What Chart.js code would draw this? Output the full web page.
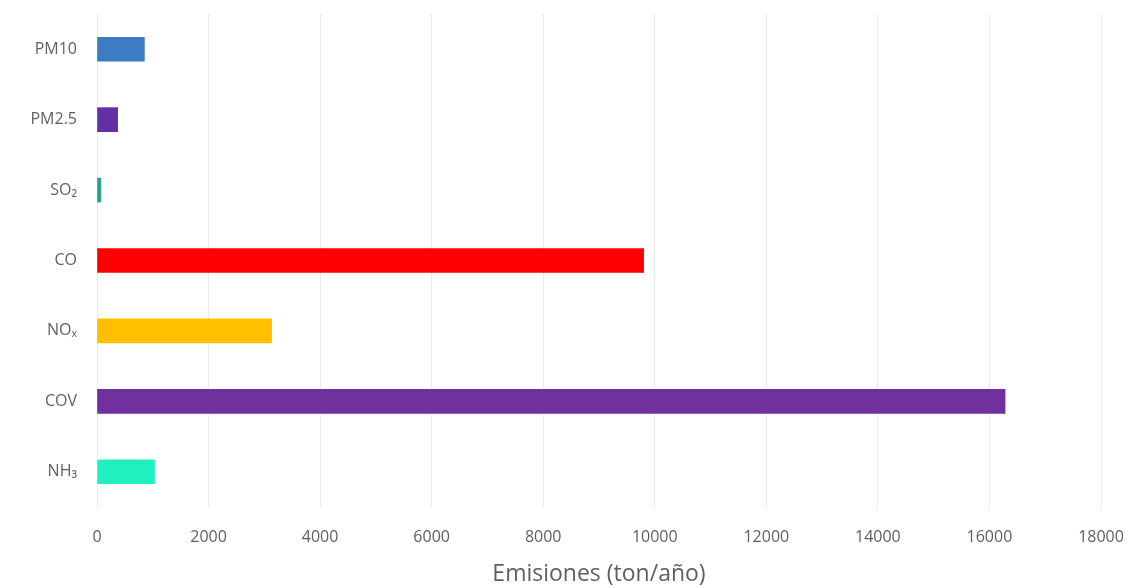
<!DOCTYPE html>
<html>
<head>
<meta charset="utf-8">
<script src="https://cdn.jsdelivr.net/npm/chart.js@4/dist/chart.umd.min.js"></script>
<style>
  html, body { margin: 0; padding: 0; background: #fff; }
  #wrap { width: 1135px; height: 588px; }
</style>
</head>
<body>
<div id="wrap"><canvas id="chart"></canvas></div>
<script>
// categories and values
const pollutants = ['PM10', 'PM2.5', 'SO₂', 'CO', 'NOₓ', 'COV', 'NH₃'];
const emissions = [850, 370, 70, 9800, 3130, 16280, 1030];
const barColors = ['#3d7bc2', '#6330a6', '#25a58c', '#ff0000', '#ffc000', '#7030a0', '#1ef0c0'];
const xTicks = [0, 2000, 4000, 6000, 8000, 10000, 12000, 14000, 16000, 18000];

const textColor = '#5f5f5f';
const fontFamily = '"Open Sans", "Noto Sans", sans-serif';

const ctx = document.getElementById('chart').getContext('2d');
new Chart(ctx, {
  type: 'bar',
  data: {
    labels: pollutants,
    datasets: [{
      data: emissions,
      backgroundColor: barColors,
      barThickness: 24
    }]
  },
  options: {
    indexAxis: 'y',
    responsive: true,
    maintainAspectRatio: false,
    animation: false,
    layout: { padding: { top: 14, right: 34, left: 0, bottom: 0 } },
    plugins: {
      legend: { display: false },
      tooltip: { enabled: false }
    },
    scales: {
      x: {
        min: xTicks[0],
        max: xTicks[xTicks.length - 1],
        afterBuildTicks: axis => { axis.ticks = xTicks.map(v => ({ value: v })); },
        afterFit: scale => {
          scale.height = 81;
          scale.paddingLeft = 0;
          scale.paddingRight = 0;
        },
        grid: { color: '#ececec', drawTicks: false },
        border: { display: false },
        ticks: {
          color: textColor,
          padding: 21,
          font: { family: fontFamily, size: 16 },
          callback: v => String(v)
        },
        title: {
          display: true,
          text: 'Emisiones (ton/año)',
          color: textColor,
          padding: { top: 0, bottom: 0 },
          font: { family: fontFamily, size: 23 }
        }
      },
      y: {
        grid: { display: false, drawTicks: false },
        border: { display: false },
        afterFit: scale => {
          scale.width = 97;
          // the tick padding would otherwise push the plot down
          scale.paddingTop = 0;
          scale.paddingBottom = 0;
        },
        ticks: {
          color: textColor,
          padding: 20,
          font: { family: fontFamily, size: 16 }
        }
      }
    }
  }
});
</script>
</body>
</html>
